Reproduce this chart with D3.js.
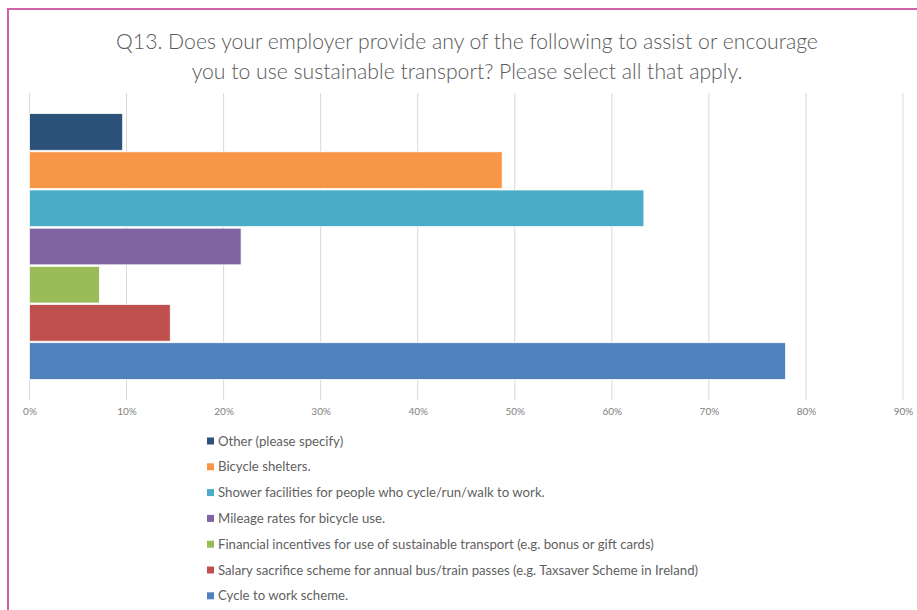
<!DOCTYPE html>
<html>
<head>
<meta charset="utf-8">
<script src="https://cdn.jsdelivr.net/npm/d3@7"></script>
<style>
  html, body { margin: 0; padding: 0; background: #fff; }
  svg { display: block; font-family: Lato, "Open Sans", sans-serif; }
</style>
</head>
<body>
<svg id="chart" width="917" height="610"></svg>
<script>
// answer options, top to bottom
const categories = [
    "Other (please specify)",
    "Bicycle shelters.",
    "Shower facilities for people who cycle/run/walk to work.",
    "Mileage rates for bicycle use.",
    "Financial incentives for use of sustainable transport (e.g. bonus or gift cards)",
    "Salary sacrifice scheme for annual bus/train passes (e.g. Taxsaver Scheme in Ireland)",
    "Cycle to work scheme."
];
const shares = [0.096, 0.487, 0.633, 0.218, 0.072, 0.145, 0.779];
const barColors = ["#2c5279", "#f79646", "#4bacc6", "#8064a2", "#9bbb59", "#c0504d", "#4f81bd"];
const ticks = [0, 0.1, 0.2, 0.3, 0.4, 0.5, 0.6, 0.7, 0.8, 0.9];
const titleLines = [
    "Q13. Does your employer provide any of the following to assist or encourage",
    "you to use sustainable transport? Please select all that apply."
];

const svg = d3.select("#chart");

// pink frame round the chart
svg.append("rect")
    .attr("x", 8).attr("y", 9)
    .attr("width", 940).attr("height", 640)
    .attr("fill", "none")
    .attr("stroke", "#d062a8")
    .attr("stroke-width", 2);

// title
svg.append("g").selectAll("text")
    .data(titleLines)
    .enter().append("text")
    .attr("x", 467)
    .attr("y", (d, i) => 49 + i * 30)
    .attr("text-anchor", "middle")
    .attr("fill", "#595959")
    .attr("font-size", 21.2)
    .attr("font-weight", 300)
    .text(d => d);

const x = d3.scaleLinear().domain([0, 0.9]).range([29.5, 903]);
const y = d3.scaleBand()
    .domain(categories)
    .range([93, 400])
    .paddingInner(0.04)
    .paddingOuter(0.54);

// vertical gridlines
svg.append("g").selectAll("line")
    .data(ticks)
    .enter().append("line")
    .attr("x1", d => x(d)).attr("x2", d => x(d))
    .attr("y1", 93).attr("y2", 400)
    .attr("stroke", "#d9d9d9")
    .attr("stroke-width", 1);

// bars
svg.append("g").selectAll("rect")
    .data(categories)
    .enter().append("rect")
    .attr("x", x(0))
    .attr("y", d => y(d))
    .attr("width", (d, i) => x(shares[i]) - x(0))
    .attr("height", y.bandwidth())
    .attr("fill", (d, i) => barColors[i])
    .attr("stroke", "#ffffff")
    .attr("stroke-width", 0.75);

// x axis labels
const xAxis = d3.axisBottom(x)
    .tickValues(ticks)
    .tickFormat(d3.format(".0%"))
    .tickSize(0)
    .tickPadding(0);
const ax = svg.append("g")
    .attr("transform", "translate(0,408)")
    .call(xAxis);
ax.select(".domain").remove();
ax.selectAll("text")
    .attr("fill", "#808080")
    .attr("font-size", 10)
    .attr("font-family", "Lato, 'Open Sans', sans-serif");

// legend
const legend = svg.append("g").selectAll("g")
    .data(categories)
    .enter().append("g")
    .attr("transform", (d, i) => `translate(207,${441 + i * 25.8})`);
legend.append("rect")
    .attr("x", 0).attr("y", -3.5)
    .attr("width", 7).attr("height", 7)
    .attr("fill", (d, i) => barColors[i]);
legend.append("text")
    .attr("x", 11)
    .attr("dy", "0.35em")
    .attr("fill", "#5f5f5f")
    .attr("font-size", 13.2)
    .text(d => d);
</script>
</body>
</html>
